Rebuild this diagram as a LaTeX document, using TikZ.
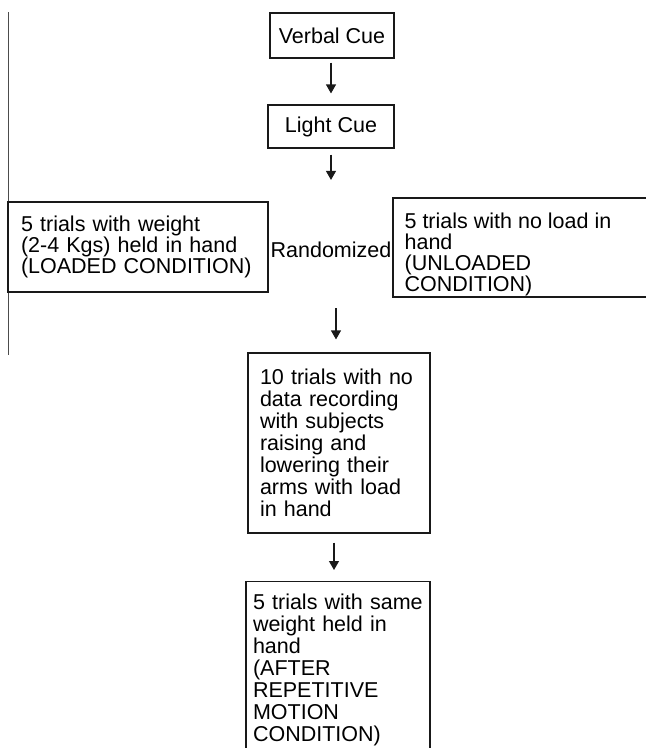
\documentclass[tikz,border=0pt]{standalone}
\usepackage{fontspec}
\setmainfont{Liberation Sans}
\usetikzlibrary{arrows.meta,calc}
\begin{document}
\begin{tikzpicture}[x=1pt,y=-1pt,
  font=\fontsize{21.5}{22}\selectfont,
  box/.style={draw=black!90, line width=1.2pt, align=left, inner xsep=0pt},
  txt/.style={align=left, inner sep=0pt},
  arr/.style={draw=black!90, line width=1.2pt, -{Triangle[length=9pt,width=10pt]}}]
\useasboundingbox (0,0) rectangle (646,748);
\clip (0,0) rectangle (646,748);
% stray vertical rule at the left
\draw[line width=0.9pt, black!70] (8,12) -- (8,355);
% nodes
\node[box, minimum width=124pt, minimum height=45pt] (verbal) at (332,35.5) {Verbal Cue};
\node[box, minimum width=126pt, minimum height=43pt] (light) at (331,126.5) {Light Cue};
\node[box, text width=234pt, inner xsep=13pt, minimum height=90pt,
  font=\fontsize{21.5}{20.8}\selectfont] (loaded) at (138,247)
  {5 trials with weight\\(2-4 Kgs) held in hand\\(LOADED CONDITION)};
\node[txt] (rand) at (331,250) {Randomized};
\node[box, minimum width=257pt, minimum height=99pt] (unloaded) at (521.5,247.5) {};
\node[txt, anchor=north west, font=\fontsize{21.5}{21.2}\selectfont] (unloadedtext)
  at ([shift={(12,15)}]unloaded.north west)
  {5 trials with no load in\\hand\\(UNLOADED\\CONDITION)};
\node[box, text width=158pt, inner xsep=12pt, minimum height=180pt] (middle) at (339,443)
  {10 trials with no\\data recording\\with subjects\\raising and\\lowering their\\arms with load\\in hand};
\node[box, text width=170pt, inner xsep=7pt, inner ysep=12pt, anchor=north] (after) at (338,581)
  {5 trials with same\\weight held in\\hand\\(AFTER\\REPETITIVE\\MOTION\\CONDITION)};
% connectors
\draw[arr, shorten <=4pt, shorten >=11pt] (verbal.south -| light.north) -- (light.north);
\draw[arr, shorten <=6pt, shorten >=62pt] (light.south) -- (light.south |- rand.north);
\draw[arr, shorten <=50pt, shorten >=13pt] ([xshift=-3pt]rand.south -| middle.north) -- ([xshift=-3pt]middle.north);
\draw[arr, shorten <=9pt, shorten >=11pt] ([xshift=-5pt]middle.south) -- ([xshift=-4pt]after.north);
\end{tikzpicture}
\end{document}
